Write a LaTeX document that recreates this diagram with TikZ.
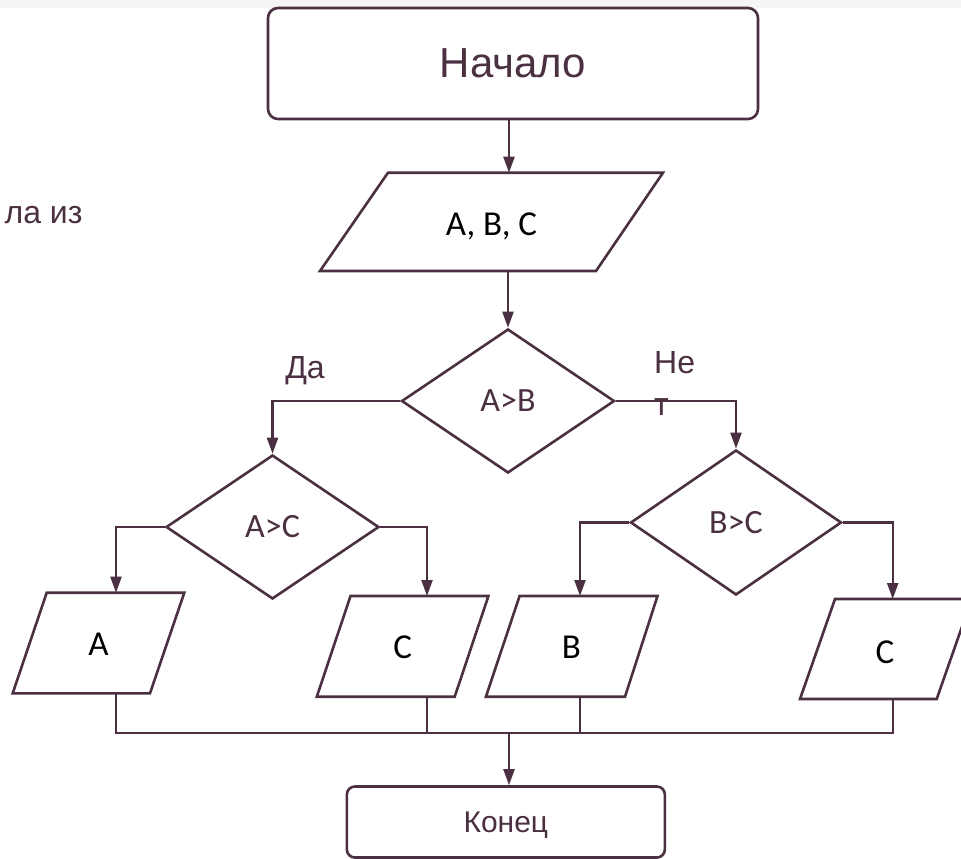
\documentclass[tikz,border=0pt]{standalone}
\usepackage{fontspec}
\setmainfont{Liberation Sans}
\newfontfamily\carlito{Carlito}
\usetikzlibrary{arrows.meta,shapes.geometric}
\definecolor{ink}{RGB}{74,48,64}
\definecolor{band}{RGB}{245,245,245}

\begin{document}
\begin{tikzpicture}[x=1pt,y=-1pt,
  shapeline/.style={draw=ink,line width=2.6pt},
  conn/.style={draw=ink,line width=2.3pt},
  arr/.style={conn,-{Triangle[length=16pt,width=11pt]}},
  term/.style={shapeline,rounded corners=10pt,inner sep=0pt,text=ink,
    font=\fontsize{42}{50}\selectfont},
  decision/.style={shapeline,diamond,inner sep=0pt,minimum width=213pt,
    minimum height=144pt,text=ink,font=\carlito\fontsize{34}{40}\selectfont},
  iotext/.style={text=black,font=\carlito\fontsize{35}{40}\selectfont,
    inner sep=0pt,text depth=0pt},
  lbl/.style={text=ink,font=\fontsize{32}{40}\selectfont,inner sep=0pt}
]
\useasboundingbox (0,0) rectangle (961,859);
\clip (0,0) rectangle (961,859);

% top strip
\fill[band] (0,0) rectangle (961,8);

% side note
\node[lbl,anchor=base east] (note) at (82.7,223) {ла из};

% start
\node[term,minimum width=490pt,minimum height=111pt] (start) at (513,63.5) {Начало};

% input A, B, C
\draw[shapeline] (388,172.7) -- (663,172.7) -- (596,271) -- (320,271) -- cycle;
\node[iotext] (abc) at (491.5,224) {A, B, C};
\coordinate (abcIn) at (509,172.7);
\coordinate (abcOut) at (508,271);
\draw[arr] (start.south -| abcIn) -- (abcIn);

% decisions
\node[decision] (ab) at (508,401) {A>B};
\node[decision] (ac) at (272.5,527) {A>C};
\node[decision,minimum width=211pt,minimum height=145pt] (bc) at (736,522.5) {B>C};
\draw[arr] (abcOut) -- (ab.north);
\draw[arr] (ab.west) -| (ac.north);
\draw[arr] (ab.east) -| (bc.north);

% branch labels
\node[lbl,anchor=base] (yes) at (305,378) {Да};
\node[lbl,anchor=base west] (no1) at (654,373.3) {Не};
\node[lbl,anchor=base west] (no2) at (654,415) {т};

% outputs
\draw[shapeline] (46.7,592.7) -- (184.3,592.7) -- (150,693.3) -- (12.7,693.3) -- cycle;
\node[iotext] (outA) at (98.4,644) {A};
\coordinate (aIn) at (116,592.7);
\coordinate (aOut) at (116,693.3);

\draw[shapeline] (350.5,596) -- (488.4,596) -- (454.7,696.7) -- (316.8,696.7) -- cycle;
\node[iotext] (outC1) at (402.6,647.5) {C};
\coordinate (c1In) at (427,596);
\coordinate (c1Out) at (427,696.7);

\draw[shapeline] (519.6,596) -- (657.5,596) -- (625,696.7) -- (485.9,696.7) -- cycle;
\node[iotext] (outB) at (571.4,647.5) {B};
\coordinate (bIn) at (580,596);
\coordinate (bOut) at (580,696.7);

\draw[shapeline] (835,599) -- (971.7,599) -- (936.7,699) -- (800,699) -- cycle;
\node[iotext] (outC2) at (885,652) {C};
\coordinate (c2In) at (892.7,599);
\coordinate (c2Out) at (892.7,699);

\draw[arr] (ac.west) -| (aIn);
\draw[arr] (ac.east) -| (c1In);
\draw[arr] (bc.west) -| (bIn);
\draw[arr] (bc.east) -| (c2In);

% merge bus
\coordinate (busL) at (116,733.3);
\coordinate (busR) at (892.7,733.3);
\coordinate (busMid) at (509,733.3);
\draw[conn] (aOut) -- (busL) -- (busR) -- (c2Out);
\draw[conn] (c1Out) -- (c1Out |- busL);
\draw[conn] (bOut) -- (bOut |- busL);

% end
\node[term,rounded corners=8pt,minimum width=318pt,minimum height=71pt,
  font=\fontsize{30}{36}\selectfont,text depth=0pt] (end) at (505.85,822) {Конец};
\draw[arr] (busMid) -- (busMid |- end.north);
\end{tikzpicture}
\end{document}
